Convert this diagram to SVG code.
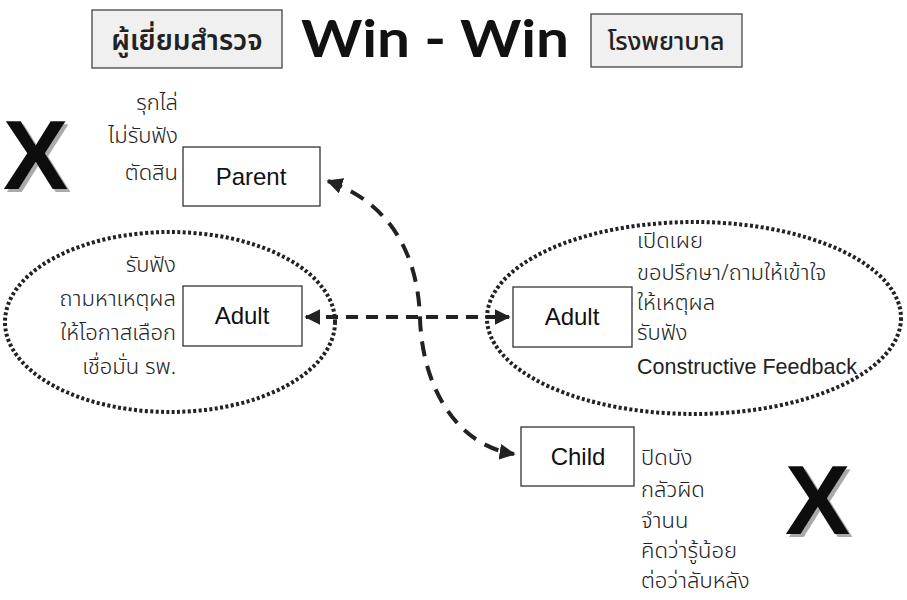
<svg xmlns="http://www.w3.org/2000/svg" width="907" height="600" viewBox="0 0 907 600">
  <defs>
    <style>
      .thai { font-family: "Noto Sans Thai", "Noto Sans", "DejaVu Sans", sans-serif; font-size: 22px; fill: #222; font-weight: 300; }
      .lbl { font-family: "Liberation Sans", Arial, sans-serif; font-size: 24px; fill: #111; text-anchor: middle; }
      .box { fill: #fff; stroke: #333; stroke-width: 1.3; }
      .tbox { fill: #f0f0f0; stroke: #444; stroke-width: 1.3; }
      .ring { fill: none; stroke: #222; stroke-width: 4; stroke-dasharray: 3 2.4; }
      .dash { fill: none; stroke: #222; stroke-width: 4; }
      .bigx { font-family: "Liberation Sans", Arial, sans-serif; font-weight: bold; font-size: 98px; fill: #111; filter: url(#shade); }
    </style>
    <filter id="shade" x="-20%" y="-20%" width="150%" height="150%">
      <feDropShadow dx="3" dy="3" stdDeviation="0" flood-color="#aaa" flood-opacity="1"/>
    </filter>
    <marker id="ah" viewBox="0 0 10 10" refX="9" refY="5" markerWidth="4" markerHeight="4" orient="auto-start-reverse" markerUnits="strokeWidth">
      <path d="M0,0 L10,5 L0,10 z" fill="#222"/>
    </marker>
  </defs>
  <rect width="907" height="600" fill="#fff"/>

  <!-- header -->
  <g id="title-left">
    <rect class="tbox" x="92" y="10" width="190" height="58"/>
    <text class="thai" x="187" y="50" text-anchor="middle" style="font-size:28px;font-weight:600">ผู้เยี่ยมสำรวจ</text>
  </g>
  <g id="title">
    <text x="435" y="57" text-anchor="middle" textLength="268" lengthAdjust="spacingAndGlyphs" style="font-family:'Comic Sans MS','Lato','Liberation Sans',sans-serif;font-weight:bold;font-size:52px;fill:#111">Win - Win</text>
  </g>
  <g id="title-right">
    <rect class="tbox" x="591" y="14" width="151" height="53"/>
    <text class="thai" x="666" y="50" text-anchor="middle" style="font-size:25px;font-weight:500">โรงพยาบาล</text>
  </g>

  <!-- groups -->
  <g id="ring-left"><ellipse class="ring" cx="170" cy="322" rx="165" ry="90"/></g>
  <g id="ring-right"><ellipse class="ring" cx="694" cy="318" rx="207" ry="96"/></g>

  <!-- connectors -->
  <g id="connectors">
    <path class="dash" d="M306,317 L509,317" stroke-dasharray="12 8" marker-start="url(#ah)" marker-end="url(#ah)"/>
    <path class="dash" d="M328,181 C395,205 418,260 420,318 C422,385 455,445 514,454" stroke-dasharray="15 10" marker-start="url(#ah)" marker-end="url(#ah)"/>
  </g>

  <!-- Parent -->
  <g id="parent">
    <rect class="box" x="183" y="147" width="137" height="59"/>
    <text class="lbl" x="251" y="185">Parent</text>
    <text class="thai" x="178" y="110" text-anchor="end">รุกไล่</text>
    <text class="thai" x="178" y="143" text-anchor="end">ไม่รับฟัง</text>
    <text class="thai" x="178" y="180" text-anchor="end">ตัดสิน</text>
  </g>

  <!-- Adult (left) -->
  <g id="adult-left">
    <rect class="box" x="183" y="286" width="119" height="60"/>
    <text class="lbl" x="242" y="324">Adult</text>
    <text class="thai" x="176" y="272" text-anchor="end">รับฟัง</text>
    <text class="thai" x="176" y="306" text-anchor="end">ถามหาเหตุผล</text>
    <text class="thai" x="176" y="340" text-anchor="end">ให้โอกาสเลือก</text>
    <text class="thai" x="176" y="374" text-anchor="end">เชื่อมั่น รพ.</text>
  </g>

  <!-- Adult (right) -->
  <g id="adult-right">
    <rect class="box" x="513" y="287" width="119" height="60"/>
    <text class="lbl" x="572" y="325">Adult</text>
    <text class="thai" x="637" y="248">เปิดเผย</text>
    <text class="thai" x="637" y="280">ขอปรึกษา/ถามให้เข้าใจ</text>
    <text class="thai" x="637" y="310">ให้เหตุผล</text>
    <text class="thai" x="637" y="340">รับฟัง</text>
    <text x="637" y="374" style="font-family:'Liberation Sans',Arial,sans-serif;font-size:21.5px;fill:#222">Constructive Feedback</text>
  </g>

  <!-- Child -->
  <g id="child">
    <rect class="box" x="521" y="427" width="113" height="59"/>
    <text class="lbl" x="578" y="465">Child</text>
    <text class="thai" x="641" y="465">ปิดบัง</text>
    <text class="thai" x="641" y="497">กลัวผิด</text>
    <text class="thai" x="641" y="528">จำนน</text>
    <text class="thai" x="641" y="558">คิดว่ารู้น้อย</text>
    <text class="thai" x="641" y="588">ต่อว่าลับหลัง</text>
  </g>

  <!-- crosses -->
  <g id="cross-parent">
    <text class="bigx" x="3" y="189">X</text>
  </g>
  <g id="cross-child">
    <text class="bigx" x="785" y="534">X</text>
  </g>
</svg>
